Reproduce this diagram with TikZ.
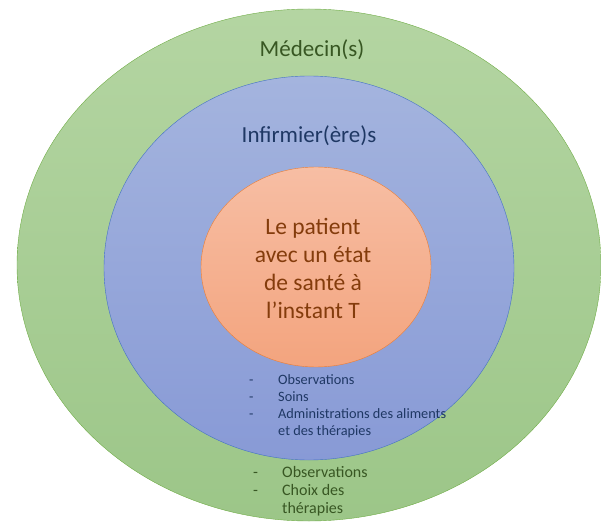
\documentclass[tikz,border=0pt]{standalone}
\usepackage{fontspec}
\setmainfont{Carlito}
\definecolor{medecintop}{RGB}{180,213,162}
\definecolor{medecinbot}{RGB}{156,198,136}
\definecolor{medecinline}{RGB}{112,173,71}
\definecolor{medecintext}{RGB}{56,87,35}
\definecolor{infirmiertop}{RGB}{164,180,222}
\definecolor{infirmierbot}{RGB}{136,154,214}
\definecolor{infirmierline}{RGB}{68,114,196}
\definecolor{infirmiertext}{RGB}{31,56,100}
\definecolor{patienttop}{RGB}{247,190,164}
\definecolor{patientbot}{RGB}{243,164,126}
\definecolor{patientline}{RGB}{237,125,49}
\definecolor{patienttext}{RGB}{132,60,12}
\begin{document}
\begin{tikzpicture}[x=1pt, y=-1pt, line join=round, line cap=round]
					%%%%%%%%%%%%%%%%%%%%%%%%%%%%%%%%%
					\useasboundingbox (0,0) rectangle (601,526);
					\coordinate (M) at (309,265);
					\coordinate (I) at (309,268);
					\coordinate (P) at (316,267);
					%%%%%%%%%%%%%%%%%%%%%%%%%%%%%%%%%
					\draw[medecinline, top color=medecintop, bottom color=medecinbot] (M) ellipse (292 and 256);
					\draw[infirmierline, top color=infirmiertop, bottom color=infirmierbot] (I) ellipse (205 and 192);
					\draw[patientline, top color=patienttop, bottom color=patientbot] (P) ellipse (115 and 100);
					%%%%%%%%%%%%%%%%%%%%%%%%%%%%%%%%%
					\node[text=medecintext, font=\fontsize{23}{27}\selectfont] (medecin) at (312,50) {Médecin(s)};
					\node[text=infirmiertext, font=\fontsize{23}{27}\selectfont] (infirmier) at (309,136) {Infirmier(ère)s};
					\node[text=patienttext, font=\fontsize{23.5}{28}\selectfont, align=center] (patient) at (313,268)
						{Le patient\\avec un état\\de santé à\\l’instant T};
					%%%%%%%%%%%%%%%%%%%%%%%%%%%%%%%%%
					\node[text=infirmiertext, font=\fontsize{14.3}{17}\selectfont, anchor=north west, inner sep=0] (soinsliste) at (249,372.6)
						{\begin{tabular}{@{}p{29pt}@{}l@{}}
						- & Observations\\
						- & Soins\\
						- & Administrations des aliments\\
						  & et des thérapies
						\end{tabular}};
					\node[text=medecintext, font=\fontsize{16}{18}\selectfont, anchor=north west, inner sep=0] (medecinliste) at (253,464.4)
						{\begin{tabular}{@{}p{29pt}@{}l@{}}
						- & Observations\\
						- & Choix des\\
						  & thérapies
						\end{tabular}};
					%%%%%%%%%%%%%%%%%%%%%%%%%%%%%%%%%
\end{tikzpicture}
\end{document}
